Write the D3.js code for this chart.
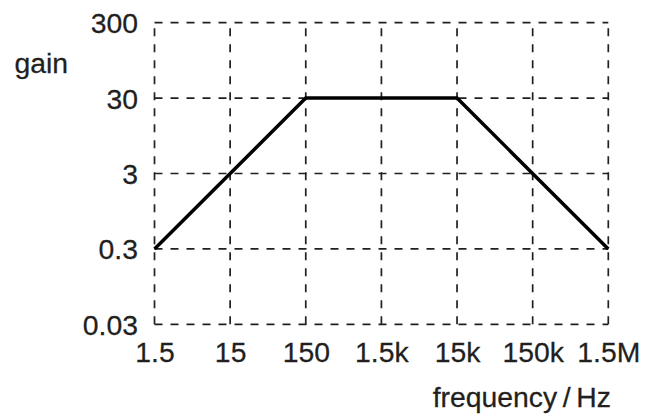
<!DOCTYPE html>
<html>
<head>
<meta charset="utf-8">
<script src="https://cdn.jsdelivr.net/npm/d3@7"></script>
<style>
  html, body { margin: 0; padding: 0; background: #fff; }
  svg { display: block; }
  text { font-family: "Liberation Sans", Arial, Helvetica, sans-serif; fill: #231f20; stroke: #231f20; stroke-width: 0.25px; }
</style>
</head>
<body>
<svg id="chart" width="646" height="414"></svg>
<script>
// Data
const xTicks = [1.5, 15, 150, 1500, 15000, 150000, 1500000];
const xTickLabels = ["1.5", "15", "150", "1.5k", "15k", "150k", "1.5M"];
const yTicks = [0.03, 0.3, 3, 30, 300];
const yTickLabels = ["0.03", "0.3", "3", "30", "300"];
const freq = [1.5, 150, 15000, 1500000];
const gain = [0.3, 30, 30, 0.3];
const xTitle = "frequency\u2009/\u2009Hz";
const yTitle = "gain";

const svg = d3.select("#chart");
const W = 646, H = 414;
const FS = 27, SX = 1.05;
svg.append("rect").attr("width", W).attr("height", H).attr("fill", "#fff");

const x = d3.scaleLog().domain([1.5, 1500000]).range([154.5, 608.3]);
const y = d3.scaleLog().domain([0.03, 300]).range([324.3, 22.7]);

const grid = svg.append("g")
  .attr("fill", "none")
  .attr("stroke", "#231f20")
  .attr("stroke-width", 1.7)
  .attr("stroke-dasharray", "8,8");

// vertical grid lines (drawn bottom to top)
grid.selectAll("path.v").data(xTicks).join("path")
  .attr("class", "v")
  .attr("d", d => `M${x(d)},${y(0.03)}V${y(300)}`);

// horizontal grid lines (left to right)
grid.selectAll("path.h").data(yTicks).join("path")
  .attr("class", "h")
  .attr("d", d => `M${x(1.5)},${y(d)}H${x(1500000)}`);

// data line
const line = d3.line().x((d, i) => x(freq[i])).y((d, i) => y(gain[i]));
svg.append("path")
  .datum(freq)
  .attr("fill", "none")
  .attr("stroke", "#000")
  .attr("stroke-width", 3.5)
  .attr("stroke-linejoin", "miter")
  .attr("d", line);

// x axis labels
const xAxis = d3.axisBottom(x)
  .tickValues(xTicks)
  .tickFormat((d, i) => xTickLabels[i])
  .tickSize(0)
  .tickPadding(19);
const gx = svg.append("g").attr("transform", `translate(0,${y(0.03)})`).call(xAxis);
gx.select(".domain").remove();
gx.selectAll("text")
  .attr("font-size", FS)
  .attr("fill", "#231f20")
  .attr("transform", `scale(${SX},1)`);

// y axis labels
const yAxis = d3.axisLeft(y)
  .tickValues(yTicks)
  .tickFormat((d, i) => yTickLabels[i])
  .tickSize(0)
  .tickPadding(0);
const gy = svg.append("g").attr("transform", `translate(${x(1.5)},0)`).call(yAxis);
gy.select(".domain").remove();
gy.selectAll("text")
  .attr("font-size", FS)
  .attr("dy", "0.37em")
  .attr("x", 0)
  .attr("fill", "#231f20")
  .attr("transform", `translate(-16.5,0) scale(${SX},1)`);
svg.selectAll(".tick line").remove();
svg.selectAll("g[font-family]").attr("font-family", null).attr("font-size", null);

// titles
svg.append("text")
  .attr("transform", `translate(14.5,73.3) scale(${SX},1)`)
  .attr("font-size", FS)
  .text(yTitle);
svg.append("text")
  .attr("transform", `translate(611,406.5) scale(${SX},1)`)
  .attr("text-anchor", "end")
  .attr("font-size", FS)
  .text(xTitle);
</script>
</body>
</html>
